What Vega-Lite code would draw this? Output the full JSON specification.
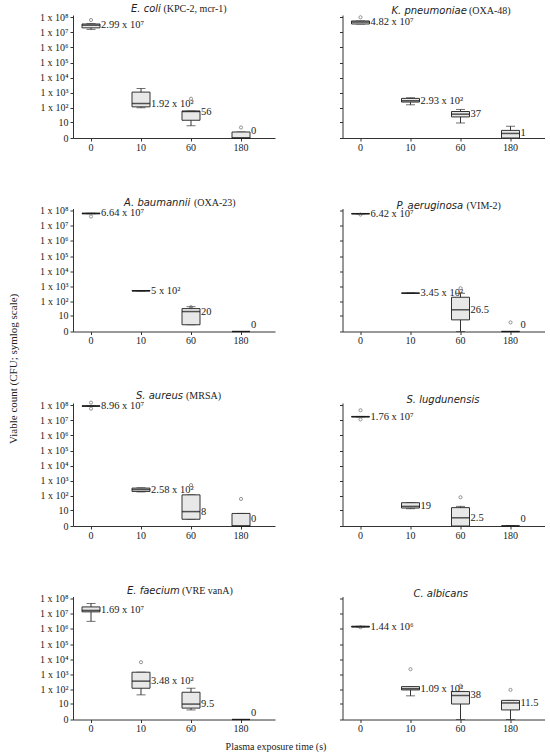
{
"$schema":"https://vega.github.io/schema/vega-lite/v6.json",
"padding":{"left":7,"top":4,"right":5,"bottom":5},
"datasets":{
"boxes":[
{"sp":"E. coli","t":"0","lo":15800000,"q1":20000000,"med":29900000,"q3":36000000,"hi":38000000,"lab":"2.99 x 10⁷"},
{"sp":"E. coli","t":"10","lo":100,"q1":115,"med":192,"q3":1100,"hi":1900,"lab":"1.92 x 10²"},
{"sp":"E. coli","t":"60","lo":5.5,"q1":14,"med":56,"q3":60,"hi":60,"lab":"56"},
{"sp":"E. coli","t":"180","lo":0,"q1":0,"med":0,"q3":1.5,"hi":1.5,"lab":"0"},
{"sp":"K. pneumoniae","t":"0","lo":36000000,"q1":36000000,"med":48200000,"q3":57000000,"hi":57000000,"lab":"4.82 x 10⁷"},
{"sp":"K. pneumoniae","t":"10","lo":158,"q1":240,"med":293,"q3":420,"hi":465,"lab":"2.93 x 10²"},
{"sp":"K. pneumoniae","t":"60","lo":8.9,"q1":24,"med":37,"q3":56,"hi":77,"lab":"37"},
{"sp":"K. pneumoniae","t":"180","lo":0,"q1":0,"med":1,"q3":2.2,"hi":5,"lab":"1"},
{"sp":"A. baumannii","t":"0","lo":64000000,"q1":64000000,"med":66400000,"q3":69000000,"hi":69000000,"lab":"6.64 x 10⁷"},
{"sp":"A. baumannii","t":"10","lo":480,"q1":480,"med":500,"q3":520,"hi":520,"lab":"5 x 10²"},
{"sp":"A. baumannii","t":"60","lo":1.8,"q1":1.8,"med":20,"q3":32,"hi":43,"lab":"20"},
{"sp":"A. baumannii","t":"180","lo":0,"q1":0,"med":0,"q3":0,"hi":0,"lab":"0"},
{"sp":"P. aeruginosa","t":"0","lo":63000000,"q1":63000000,"med":64200000,"q3":65000000,"hi":65000000,"lab":"6.42 x 10⁷"},
{"sp":"P. aeruginosa","t":"10","lo":345,"q1":345,"med":345,"q3":345,"hi":345,"lab":"3.45 x 10²"},
{"sp":"P. aeruginosa","t":"60","lo":0,"q1":4.9,"med":26.5,"q3":185,"hi":340,"lab":"26.5"},
{"sp":"P. aeruginosa","t":"180","lo":0,"q1":0,"med":0,"q3":0,"hi":0,"lab":"0"},
{"sp":"S. aureus","t":"0","lo":86000000,"q1":86000000,"med":89600000,"q3":92000000,"hi":92000000,"lab":"8.96 x 10⁷"},
{"sp":"S. aureus","t":"10","lo":180,"q1":194,"med":258,"q3":324,"hi":340,"lab":"2.58 x 10²"},
{"sp":"S. aureus","t":"60","lo":1.8,"q1":1.8,"med":8,"q3":115,"hi":115,"lab":"8"},
{"sp":"S. aureus","t":"180","lo":0,"q1":0,"med":0,"q3":5.8,"hi":5.8,"lab":"0"},
{"sp":"S. lugdunensis","t":"0","lo":17000000,"q1":17000000,"med":17600000,"q3":18200000,"hi":18200000,"lab":"1.76 x 10⁷"},
{"sp":"S. lugdunensis","t":"10","lo":13,"q1":14.5,"med":19,"q3":34,"hi":35,"lab":"19"},
{"sp":"S. lugdunensis","t":"60","lo":0,"q1":0,"med":2.5,"q3":15.5,"hi":19,"lab":"2.5"},
{"sp":"S. lugdunensis","t":"180","lo":0,"q1":0,"med":0,"q3":0,"hi":0,"lab":"0"},
{"sp":"E. faecium","t":"0","lo":3200000,"q1":13600000,"med":16900000,"q3":29000000,"hi":49000000,"lab":"1.69 x 10⁷"},
{"sp":"E. faecium","t":"10","lo":42,"q1":117,"med":348,"q3":1360,"hi":1360,"lab":"3.48 x 10²"},
{"sp":"E. faecium","t":"60","lo":3.3,"q1":4.7,"med":9.5,"q3":63,"hi":117,"lab":"9.5"},
{"sp":"E. faecium","t":"180","lo":0,"q1":0,"med":0,"q3":0,"hi":0,"lab":"0"},
{"sp":"C. albicans","t":"0","lo":1350000,"q1":1350000,"med":1440000,"q3":1500000,"hi":1500000,"lab":"1.44 x 10⁶"},
{"sp":"C. albicans","t":"10","lo":36,"q1":90,"med":109,"q3":150,"hi":150,"lab":"1.09 x 10²"},
{"sp":"C. albicans","t":"60","lo":0,"q1":9.6,"med":38,"q3":70,"hi":72,"lab":"38"},
{"sp":"C. albicans","t":"180","lo":0,"q1":3.3,"med":11.5,"q3":17.5,"hi":17.5,"lab":"11.5"}
],
"outl":[
{"sp":"E. coli","t":"0","v":66000000},
{"sp":"E. coli","t":"60","v":400},
{"sp":"E. coli","t":"180","v":4},
{"sp":"K. pneumoniae","t":"0","v":100000000},
{"sp":"A. baumannii","t":"0","v":42000000},
{"sp":"A. baumannii","t":"60","v":40},
{"sp":"P. aeruginosa","t":"0","v":56000000},
{"sp":"P. aeruginosa","t":"60","v":735},
{"sp":"P. aeruginosa","t":"180","v":3},
{"sp":"S. aureus","t":"0","v":150000000},
{"sp":"S. aureus","t":"0","v":60000000},
{"sp":"S. aureus","t":"60","v":515},
{"sp":"S. aureus","t":"180","v":61},
{"sp":"S. lugdunensis","t":"0","v":47000000},
{"sp":"S. lugdunensis","t":"0","v":11500000},
{"sp":"S. lugdunensis","t":"60","v":79},
{"sp":"E. faecium","t":"10","v":6300},
{"sp":"C. albicans","t":"0","v":1300000},
{"sp":"C. albicans","t":"10","v":2150},
{"sp":"C. albicans","t":"60","v":175},
{"sp":"C. albicans","t":"180","v":91}
]
},
"title":{"text":"Plasma exposure time (s)","orient":"bottom","anchor":"middle","frame":"bounds","font":"Liberation Serif","fontStyle":"normal","fontSize":10,"offset":8},
"vconcat":[{
"title":{"text":"Viable count (CFU; symlog scale)","orient":"left","anchor":"middle","frame":"bounds","font":"Liberation Serif","fontStyle":"normal","fontSize":11,"offset":21},
"columns":2,
"spacing":{"row":45.5,"column":63.5},
"concat":[
{"width":202,"height":123,
"title":{"text":"E. coli","subtitle":"\u200b\u00a0\u00a0\u00a0\u00a0\u00a0\u00a0\u00a0\u00a0\u00a0\u00a0\u00a0\u00a0\u00a0(KPC-2, mcr-1)","dx":58},
"encoding":{"x":{"field":"t","type":"ordinal","scale":{"domain":["0","10","60","180"],"paddingInner":0.64,"paddingOuter":0.34,"align":0.265},"axis":{"title":null,"labelAngle":0,"tickSize":3,"labelPadding":1}}},
"layer":[
{"data":{"name":"boxes"},"transform":[{"filter":"datum.sp=='E. coli'"}],"mark":{"type":"rule","color":"#333","strokeWidth":1},"encoding":{"y":{"field":"lo","type":"quantitative","scale":{"type":"symlog","constant":1,"domain":[0,142000000],"nice":false},"axis":{"title":null,"values":[0,10,100,1000,10000,100000,1000000,10000000,100000000],"tickCount":20,"labelOverlap":false,"labelExpr":"datum.value == 0 ? '0' : datum.value == 10 ? '10' : '1 x 10' + ['','','²','³','⁴','⁵','⁶','⁷','⁸'][round(log(datum.value)/LN10)]","tickSize":3,"labelPadding":2}},"y2":{"field":"hi"}}},
{"data":{"name":"boxes"},"transform":[{"filter":"datum.sp=='E. coli'"}],"mark":{"type":"tick","size":9,"thickness":1,"color":"#333"},"encoding":{"y":{"field":"lo","type":"quantitative","title":null}}},
{"data":{"name":"boxes"},"transform":[{"filter":"datum.sp=='E. coli'"}],"mark":{"type":"tick","size":9,"thickness":1,"color":"#333"},"encoding":{"y":{"field":"hi","type":"quantitative","title":null}}},
{"data":{"name":"boxes"},"transform":[{"filter":"datum.sp=='E. coli'"}],"mark":{"type":"bar","fill":"#e8e8e8","stroke":"#333","strokeWidth":1},"encoding":{"y":{"field":"q1","type":"quantitative","title":null},"y2":{"field":"q3"}}},
{"data":{"name":"boxes"},"transform":[{"filter":"datum.sp=='E. coli'"}],"mark":{"type":"tick","size":18,"thickness":1.5,"color":"#111"},"encoding":{"y":{"field":"med","type":"quantitative","title":null}}},
{"data":{"name":"boxes"},"transform":[{"filter":"datum.sp=='E. coli' && datum.med > 0"}],"mark":{"type":"text","align":"left","baseline":"middle","dx":10},"encoding":{"y":{"field":"med","type":"quantitative","title":null},"text":{"field":"lab"}}},
{"data":{"name":"boxes"},"transform":[{"filter":"datum.sp=='E. coli' && datum.med == 0"}],"mark":{"type":"text","align":"left","baseline":"middle","dx":10,"dy":-7},"encoding":{"y":{"field":"med","type":"quantitative","title":null},"text":{"field":"lab"}}},
{"data":{"name":"outl"},"transform":[{"filter":"datum.sp=='E. coli'"}],"mark":{"type":"point","shape":"circle","filled":false,"size":10,"color":"#444","strokeWidth":0.8},"encoding":{"y":{"field":"v","type":"quantitative","title":null}}}
]},
{"width":202,"height":123,
"title":{"text":"K. pneumoniae","subtitle":"\u200b\u00a0\u00a0\u00a0\u00a0\u00a0\u00a0\u00a0\u00a0\u00a0\u00a0\u00a0\u00a0\u00a0\u00a0\u00a0\u00a0\u00a0\u00a0\u00a0\u00a0\u00a0\u00a0\u00a0\u00a0\u00a0\u00a0\u00a0\u00a0\u00a0\u00a0\u00a0(OXA-48)","dx":49},
"encoding":{"x":{"field":"t","type":"ordinal","scale":{"domain":["0","10","60","180"],"paddingInner":0.64,"paddingOuter":0.34,"align":0.265},"axis":{"title":null,"labelAngle":0,"tickSize":3,"labelPadding":1}}},
"layer":[
{"data":{"name":"boxes"},"transform":[{"filter":"datum.sp=='K. pneumoniae'"}],"mark":{"type":"rule","color":"#333","strokeWidth":1},"encoding":{"y":{"field":"lo","type":"quantitative","scale":{"type":"symlog","constant":1,"domain":[0,142000000],"nice":false},"axis":{"title":null,"values":[0,10,100,1000,10000,100000,1000000,10000000,100000000],"tickCount":20,"labels":false,"tickSize":3}},"y2":{"field":"hi"}}},
{"data":{"name":"boxes"},"transform":[{"filter":"datum.sp=='K. pneumoniae'"}],"mark":{"type":"tick","size":9,"thickness":1,"color":"#333"},"encoding":{"y":{"field":"lo","type":"quantitative","title":null}}},
{"data":{"name":"boxes"},"transform":[{"filter":"datum.sp=='K. pneumoniae'"}],"mark":{"type":"tick","size":9,"thickness":1,"color":"#333"},"encoding":{"y":{"field":"hi","type":"quantitative","title":null}}},
{"data":{"name":"boxes"},"transform":[{"filter":"datum.sp=='K. pneumoniae'"}],"mark":{"type":"bar","fill":"#e8e8e8","stroke":"#333","strokeWidth":1},"encoding":{"y":{"field":"q1","type":"quantitative","title":null},"y2":{"field":"q3"}}},
{"data":{"name":"boxes"},"transform":[{"filter":"datum.sp=='K. pneumoniae'"}],"mark":{"type":"tick","size":18,"thickness":1.5,"color":"#111"},"encoding":{"y":{"field":"med","type":"quantitative","title":null}}},
{"data":{"name":"boxes"},"transform":[{"filter":"datum.sp=='K. pneumoniae' && datum.med > 0"}],"mark":{"type":"text","align":"left","baseline":"middle","dx":10},"encoding":{"y":{"field":"med","type":"quantitative","title":null},"text":{"field":"lab"}}},
{"data":{"name":"boxes"},"transform":[{"filter":"datum.sp=='K. pneumoniae' && datum.med == 0"}],"mark":{"type":"text","align":"left","baseline":"middle","dx":10,"dy":-7},"encoding":{"y":{"field":"med","type":"quantitative","title":null},"text":{"field":"lab"}}},
{"data":{"name":"outl"},"transform":[{"filter":"datum.sp=='K. pneumoniae'"}],"mark":{"type":"point","shape":"circle","filled":false,"size":10,"color":"#444","strokeWidth":0.8},"encoding":{"y":{"field":"v","type":"quantitative","title":null}}}
]},
{"width":202,"height":123,
"title":{"text":"A. baumannii","subtitle":"\u200b\u00a0\u00a0\u00a0\u00a0\u00a0\u00a0\u00a0\u00a0\u00a0\u00a0\u00a0\u00a0\u00a0\u00a0\u00a0\u00a0\u00a0\u00a0\u00a0\u00a0\u00a0\u00a0\u00a0\u00a0\u00a0\u00a0\u00a0\u00a0(OXA-23)","dx":51},
"encoding":{"x":{"field":"t","type":"ordinal","scale":{"domain":["0","10","60","180"],"paddingInner":0.64,"paddingOuter":0.34,"align":0.265},"axis":{"title":null,"labelAngle":0,"tickSize":3,"labelPadding":1}}},
"layer":[
{"data":{"name":"boxes"},"transform":[{"filter":"datum.sp=='A. baumannii'"}],"mark":{"type":"rule","color":"#333","strokeWidth":1},"encoding":{"y":{"field":"lo","type":"quantitative","scale":{"type":"symlog","constant":1,"domain":[0,142000000],"nice":false},"axis":{"title":null,"values":[0,10,100,1000,10000,100000,1000000,10000000,100000000],"tickCount":20,"labelOverlap":false,"labelExpr":"datum.value == 0 ? '0' : datum.value == 10 ? '10' : '1 x 10' + ['','','²','³','⁴','⁵','⁶','⁷','⁸'][round(log(datum.value)/LN10)]","tickSize":3,"labelPadding":2}},"y2":{"field":"hi"}}},
{"data":{"name":"boxes"},"transform":[{"filter":"datum.sp=='A. baumannii'"}],"mark":{"type":"tick","size":9,"thickness":1,"color":"#333"},"encoding":{"y":{"field":"lo","type":"quantitative","title":null}}},
{"data":{"name":"boxes"},"transform":[{"filter":"datum.sp=='A. baumannii'"}],"mark":{"type":"tick","size":9,"thickness":1,"color":"#333"},"encoding":{"y":{"field":"hi","type":"quantitative","title":null}}},
{"data":{"name":"boxes"},"transform":[{"filter":"datum.sp=='A. baumannii'"}],"mark":{"type":"bar","fill":"#e8e8e8","stroke":"#333","strokeWidth":1},"encoding":{"y":{"field":"q1","type":"quantitative","title":null},"y2":{"field":"q3"}}},
{"data":{"name":"boxes"},"transform":[{"filter":"datum.sp=='A. baumannii'"}],"mark":{"type":"tick","size":18,"thickness":1.5,"color":"#111"},"encoding":{"y":{"field":"med","type":"quantitative","title":null}}},
{"data":{"name":"boxes"},"transform":[{"filter":"datum.sp=='A. baumannii' && datum.med > 0"}],"mark":{"type":"text","align":"left","baseline":"middle","dx":10},"encoding":{"y":{"field":"med","type":"quantitative","title":null},"text":{"field":"lab"}}},
{"data":{"name":"boxes"},"transform":[{"filter":"datum.sp=='A. baumannii' && datum.med == 0"}],"mark":{"type":"text","align":"left","baseline":"middle","dx":10,"dy":-7},"encoding":{"y":{"field":"med","type":"quantitative","title":null},"text":{"field":"lab"}}},
{"data":{"name":"outl"},"transform":[{"filter":"datum.sp=='A. baumannii'"}],"mark":{"type":"point","shape":"circle","filled":false,"size":10,"color":"#444","strokeWidth":0.8},"encoding":{"y":{"field":"v","type":"quantitative","title":null}}}
]},
{"width":202,"height":123,
"title":{"text":"P. aeruginosa","subtitle":"\u200b\u00a0\u00a0\u00a0\u00a0\u00a0\u00a0\u00a0\u00a0\u00a0\u00a0\u00a0\u00a0\u00a0\u00a0\u00a0\u00a0\u00a0\u00a0\u00a0\u00a0\u00a0\u00a0\u00a0\u00a0\u00a0\u00a0\u00a0\u00a0(VIM-2)","dx":54},
"encoding":{"x":{"field":"t","type":"ordinal","scale":{"domain":["0","10","60","180"],"paddingInner":0.64,"paddingOuter":0.34,"align":0.265},"axis":{"title":null,"labelAngle":0,"tickSize":3,"labelPadding":1}}},
"layer":[
{"data":{"name":"boxes"},"transform":[{"filter":"datum.sp=='P. aeruginosa'"}],"mark":{"type":"rule","color":"#333","strokeWidth":1},"encoding":{"y":{"field":"lo","type":"quantitative","scale":{"type":"symlog","constant":1,"domain":[0,142000000],"nice":false},"axis":{"title":null,"values":[0,10,100,1000,10000,100000,1000000,10000000,100000000],"tickCount":20,"labels":false,"tickSize":3}},"y2":{"field":"hi"}}},
{"data":{"name":"boxes"},"transform":[{"filter":"datum.sp=='P. aeruginosa'"}],"mark":{"type":"tick","size":9,"thickness":1,"color":"#333"},"encoding":{"y":{"field":"lo","type":"quantitative","title":null}}},
{"data":{"name":"boxes"},"transform":[{"filter":"datum.sp=='P. aeruginosa'"}],"mark":{"type":"tick","size":9,"thickness":1,"color":"#333"},"encoding":{"y":{"field":"hi","type":"quantitative","title":null}}},
{"data":{"name":"boxes"},"transform":[{"filter":"datum.sp=='P. aeruginosa'"}],"mark":{"type":"bar","fill":"#e8e8e8","stroke":"#333","strokeWidth":1},"encoding":{"y":{"field":"q1","type":"quantitative","title":null},"y2":{"field":"q3"}}},
{"data":{"name":"boxes"},"transform":[{"filter":"datum.sp=='P. aeruginosa'"}],"mark":{"type":"tick","size":18,"thickness":1.5,"color":"#111"},"encoding":{"y":{"field":"med","type":"quantitative","title":null}}},
{"data":{"name":"boxes"},"transform":[{"filter":"datum.sp=='P. aeruginosa' && datum.med > 0"}],"mark":{"type":"text","align":"left","baseline":"middle","dx":10},"encoding":{"y":{"field":"med","type":"quantitative","title":null},"text":{"field":"lab"}}},
{"data":{"name":"boxes"},"transform":[{"filter":"datum.sp=='P. aeruginosa' && datum.med == 0"}],"mark":{"type":"text","align":"left","baseline":"middle","dx":10,"dy":-7},"encoding":{"y":{"field":"med","type":"quantitative","title":null},"text":{"field":"lab"}}},
{"data":{"name":"outl"},"transform":[{"filter":"datum.sp=='P. aeruginosa'"}],"mark":{"type":"point","shape":"circle","filled":false,"size":10,"color":"#444","strokeWidth":0.8},"encoding":{"y":{"field":"v","type":"quantitative","title":null}}}
]},
{"width":202,"height":123,
"title":{"text":"S. aureus","subtitle":"\u200b\u00a0\u00a0\u00a0\u00a0\u00a0\u00a0\u00a0\u00a0\u00a0\u00a0\u00a0\u00a0\u00a0\u00a0\u00a0\u00a0\u00a0\u00a0\u00a0\u00a0(MRSA)","dx":63},
"encoding":{"x":{"field":"t","type":"ordinal","scale":{"domain":["0","10","60","180"],"paddingInner":0.64,"paddingOuter":0.34,"align":0.265},"axis":{"title":null,"labelAngle":0,"tickSize":3,"labelPadding":1}}},
"layer":[
{"data":{"name":"boxes"},"transform":[{"filter":"datum.sp=='S. aureus'"}],"mark":{"type":"rule","color":"#333","strokeWidth":1},"encoding":{"y":{"field":"lo","type":"quantitative","scale":{"type":"symlog","constant":1,"domain":[0,142000000],"nice":false},"axis":{"title":null,"values":[0,10,100,1000,10000,100000,1000000,10000000,100000000],"tickCount":20,"labelOverlap":false,"labelExpr":"datum.value == 0 ? '0' : datum.value == 10 ? '10' : '1 x 10' + ['','','²','³','⁴','⁵','⁶','⁷','⁸'][round(log(datum.value)/LN10)]","tickSize":3,"labelPadding":2}},"y2":{"field":"hi"}}},
{"data":{"name":"boxes"},"transform":[{"filter":"datum.sp=='S. aureus'"}],"mark":{"type":"tick","size":9,"thickness":1,"color":"#333"},"encoding":{"y":{"field":"lo","type":"quantitative","title":null}}},
{"data":{"name":"boxes"},"transform":[{"filter":"datum.sp=='S. aureus'"}],"mark":{"type":"tick","size":9,"thickness":1,"color":"#333"},"encoding":{"y":{"field":"hi","type":"quantitative","title":null}}},
{"data":{"name":"boxes"},"transform":[{"filter":"datum.sp=='S. aureus'"}],"mark":{"type":"bar","fill":"#e8e8e8","stroke":"#333","strokeWidth":1},"encoding":{"y":{"field":"q1","type":"quantitative","title":null},"y2":{"field":"q3"}}},
{"data":{"name":"boxes"},"transform":[{"filter":"datum.sp=='S. aureus'"}],"mark":{"type":"tick","size":18,"thickness":1.5,"color":"#111"},"encoding":{"y":{"field":"med","type":"quantitative","title":null}}},
{"data":{"name":"boxes"},"transform":[{"filter":"datum.sp=='S. aureus' && datum.med > 0"}],"mark":{"type":"text","align":"left","baseline":"middle","dx":10},"encoding":{"y":{"field":"med","type":"quantitative","title":null},"text":{"field":"lab"}}},
{"data":{"name":"boxes"},"transform":[{"filter":"datum.sp=='S. aureus' && datum.med == 0"}],"mark":{"type":"text","align":"left","baseline":"middle","dx":10,"dy":-7},"encoding":{"y":{"field":"med","type":"quantitative","title":null},"text":{"field":"lab"}}},
{"data":{"name":"outl"},"transform":[{"filter":"datum.sp=='S. aureus'"}],"mark":{"type":"point","shape":"circle","filled":false,"size":10,"color":"#444","strokeWidth":0.8},"encoding":{"y":{"field":"v","type":"quantitative","title":null}}}
]},
{"width":202,"height":123,
"title":{"text":"S. lugdunensis","dx":64},
"encoding":{"x":{"field":"t","type":"ordinal","scale":{"domain":["0","10","60","180"],"paddingInner":0.64,"paddingOuter":0.34,"align":0.265},"axis":{"title":null,"labelAngle":0,"tickSize":3,"labelPadding":1}}},
"layer":[
{"data":{"name":"boxes"},"transform":[{"filter":"datum.sp=='S. lugdunensis'"}],"mark":{"type":"rule","color":"#333","strokeWidth":1},"encoding":{"y":{"field":"lo","type":"quantitative","scale":{"type":"symlog","constant":1,"domain":[0,142000000],"nice":false},"axis":{"title":null,"values":[0,10,100,1000,10000,100000,1000000,10000000,100000000],"tickCount":20,"labels":false,"tickSize":3}},"y2":{"field":"hi"}}},
{"data":{"name":"boxes"},"transform":[{"filter":"datum.sp=='S. lugdunensis'"}],"mark":{"type":"tick","size":9,"thickness":1,"color":"#333"},"encoding":{"y":{"field":"lo","type":"quantitative","title":null}}},
{"data":{"name":"boxes"},"transform":[{"filter":"datum.sp=='S. lugdunensis'"}],"mark":{"type":"tick","size":9,"thickness":1,"color":"#333"},"encoding":{"y":{"field":"hi","type":"quantitative","title":null}}},
{"data":{"name":"boxes"},"transform":[{"filter":"datum.sp=='S. lugdunensis'"}],"mark":{"type":"bar","fill":"#e8e8e8","stroke":"#333","strokeWidth":1},"encoding":{"y":{"field":"q1","type":"quantitative","title":null},"y2":{"field":"q3"}}},
{"data":{"name":"boxes"},"transform":[{"filter":"datum.sp=='S. lugdunensis'"}],"mark":{"type":"tick","size":18,"thickness":1.5,"color":"#111"},"encoding":{"y":{"field":"med","type":"quantitative","title":null}}},
{"data":{"name":"boxes"},"transform":[{"filter":"datum.sp=='S. lugdunensis' && datum.med > 0"}],"mark":{"type":"text","align":"left","baseline":"middle","dx":10},"encoding":{"y":{"field":"med","type":"quantitative","title":null},"text":{"field":"lab"}}},
{"data":{"name":"boxes"},"transform":[{"filter":"datum.sp=='S. lugdunensis' && datum.med == 0"}],"mark":{"type":"text","align":"left","baseline":"middle","dx":10,"dy":-7},"encoding":{"y":{"field":"med","type":"quantitative","title":null},"text":{"field":"lab"}}},
{"data":{"name":"outl"},"transform":[{"filter":"datum.sp=='S. lugdunensis'"}],"mark":{"type":"point","shape":"circle","filled":false,"size":10,"color":"#444","strokeWidth":0.8},"encoding":{"y":{"field":"v","type":"quantitative","title":null}}}
]},
{"width":202,"height":123,
"title":{"text":"E. faecium","subtitle":"\u200b\u00a0\u00a0\u00a0\u00a0\u00a0\u00a0\u00a0\u00a0\u00a0\u00a0\u00a0\u00a0\u00a0\u00a0\u00a0\u00a0\u00a0\u00a0\u00a0\u00a0\u00a0\u00a0(VRE vanA)","dx":54},
"encoding":{"x":{"field":"t","type":"ordinal","scale":{"domain":["0","10","60","180"],"paddingInner":0.64,"paddingOuter":0.34,"align":0.265},"axis":{"title":null,"labelAngle":0,"tickSize":3,"labelPadding":1}}},
"layer":[
{"data":{"name":"boxes"},"transform":[{"filter":"datum.sp=='E. faecium'"}],"mark":{"type":"rule","color":"#333","strokeWidth":1},"encoding":{"y":{"field":"lo","type":"quantitative","scale":{"type":"symlog","constant":1,"domain":[0,142000000],"nice":false},"axis":{"title":null,"values":[0,10,100,1000,10000,100000,1000000,10000000,100000000],"tickCount":20,"labelOverlap":false,"labelExpr":"datum.value == 0 ? '0' : datum.value == 10 ? '10' : '1 x 10' + ['','','²','³','⁴','⁵','⁶','⁷','⁸'][round(log(datum.value)/LN10)]","tickSize":3,"labelPadding":2}},"y2":{"field":"hi"}}},
{"data":{"name":"boxes"},"transform":[{"filter":"datum.sp=='E. faecium'"}],"mark":{"type":"tick","size":9,"thickness":1,"color":"#333"},"encoding":{"y":{"field":"lo","type":"quantitative","title":null}}},
{"data":{"name":"boxes"},"transform":[{"filter":"datum.sp=='E. faecium'"}],"mark":{"type":"tick","size":9,"thickness":1,"color":"#333"},"encoding":{"y":{"field":"hi","type":"quantitative","title":null}}},
{"data":{"name":"boxes"},"transform":[{"filter":"datum.sp=='E. faecium'"}],"mark":{"type":"bar","fill":"#e8e8e8","stroke":"#333","strokeWidth":1},"encoding":{"y":{"field":"q1","type":"quantitative","title":null},"y2":{"field":"q3"}}},
{"data":{"name":"boxes"},"transform":[{"filter":"datum.sp=='E. faecium'"}],"mark":{"type":"tick","size":18,"thickness":1.5,"color":"#111"},"encoding":{"y":{"field":"med","type":"quantitative","title":null}}},
{"data":{"name":"boxes"},"transform":[{"filter":"datum.sp=='E. faecium' && datum.med > 0"}],"mark":{"type":"text","align":"left","baseline":"middle","dx":10},"encoding":{"y":{"field":"med","type":"quantitative","title":null},"text":{"field":"lab"}}},
{"data":{"name":"boxes"},"transform":[{"filter":"datum.sp=='E. faecium' && datum.med == 0"}],"mark":{"type":"text","align":"left","baseline":"middle","dx":10,"dy":-7},"encoding":{"y":{"field":"med","type":"quantitative","title":null},"text":{"field":"lab"}}},
{"data":{"name":"outl"},"transform":[{"filter":"datum.sp=='E. faecium'"}],"mark":{"type":"point","shape":"circle","filled":false,"size":10,"color":"#444","strokeWidth":0.8},"encoding":{"y":{"field":"v","type":"quantitative","title":null}}}
]},
{"width":202,"height":123,
"title":{"text":"C. albicans","dx":71},
"encoding":{"x":{"field":"t","type":"ordinal","scale":{"domain":["0","10","60","180"],"paddingInner":0.64,"paddingOuter":0.34,"align":0.265},"axis":{"title":null,"labelAngle":0,"tickSize":3,"labelPadding":1}}},
"layer":[
{"data":{"name":"boxes"},"transform":[{"filter":"datum.sp=='C. albicans'"}],"mark":{"type":"rule","color":"#333","strokeWidth":1},"encoding":{"y":{"field":"lo","type":"quantitative","scale":{"type":"symlog","constant":1,"domain":[0,142000000],"nice":false},"axis":{"title":null,"values":[0,10,100,1000,10000,100000,1000000,10000000,100000000],"tickCount":20,"labels":false,"tickSize":3}},"y2":{"field":"hi"}}},
{"data":{"name":"boxes"},"transform":[{"filter":"datum.sp=='C. albicans'"}],"mark":{"type":"tick","size":9,"thickness":1,"color":"#333"},"encoding":{"y":{"field":"lo","type":"quantitative","title":null}}},
{"data":{"name":"boxes"},"transform":[{"filter":"datum.sp=='C. albicans'"}],"mark":{"type":"tick","size":9,"thickness":1,"color":"#333"},"encoding":{"y":{"field":"hi","type":"quantitative","title":null}}},
{"data":{"name":"boxes"},"transform":[{"filter":"datum.sp=='C. albicans'"}],"mark":{"type":"bar","fill":"#e8e8e8","stroke":"#333","strokeWidth":1},"encoding":{"y":{"field":"q1","type":"quantitative","title":null},"y2":{"field":"q3"}}},
{"data":{"name":"boxes"},"transform":[{"filter":"datum.sp=='C. albicans'"}],"mark":{"type":"tick","size":18,"thickness":1.5,"color":"#111"},"encoding":{"y":{"field":"med","type":"quantitative","title":null}}},
{"data":{"name":"boxes"},"transform":[{"filter":"datum.sp=='C. albicans' && datum.med > 0"}],"mark":{"type":"text","align":"left","baseline":"middle","dx":10},"encoding":{"y":{"field":"med","type":"quantitative","title":null},"text":{"field":"lab"}}},
{"data":{"name":"boxes"},"transform":[{"filter":"datum.sp=='C. albicans' && datum.med == 0"}],"mark":{"type":"text","align":"left","baseline":"middle","dx":10,"dy":-7},"encoding":{"y":{"field":"med","type":"quantitative","title":null},"text":{"field":"lab"}}},
{"data":{"name":"outl"},"transform":[{"filter":"datum.sp=='C. albicans'"}],"mark":{"type":"point","shape":"circle","filled":false,"size":10,"color":"#444","strokeWidth":0.8},"encoding":{"y":{"field":"v","type":"quantitative","title":null}}}
]}
]}],
"config":{
"view":{"stroke":null},
"font":"Liberation Serif",
"axis":{"domainColor":"#333","tickColor":"#333","labelColor":"#222","labelFont":"Liberation Serif","labelFontSize":10,"grid":false,"domainWidth":1,"tickWidth":1},
"text":{"font":"Liberation Serif","fontSize":10.5,"color":"#222"},
"title":{"font":"DejaVu Sans","fontStyle":"italic","fontWeight":"normal","fontSize":10,"color":"#222","anchor":"start","frame":"group","offset":-2,"subtitleFont":"Liberation Serif","subtitleFontSize":10,"subtitleColor":"#222","subtitlePadding":-10}
}
}
